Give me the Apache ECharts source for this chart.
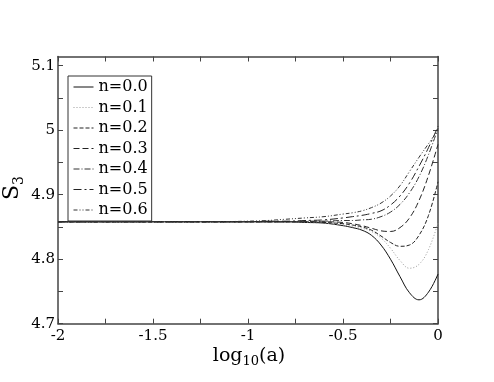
<!DOCTYPE html>
<html><head><meta charset="utf-8">
<script src="https://cdn.jsdelivr.net/npm/echarts@6/dist/echarts.min.js"></script>
<style>html,body{margin:0;padding:0;background:#fff}#c{width:494px;height:382px}</style>
</head><body><div id="c"></div>
<script>
// log10(a) sample positions
const xs = [-2, -1.5, -1.2, -1.0, -0.9, -0.8, -0.7, -0.6, -0.5, -0.45, -0.4, -0.35, -0.3, -0.25, -0.2, -0.15, -0.1, -0.05, 0];
// S3 values per n
const s_n00 = [4.858, 4.858, 4.858, 4.858, 4.858, 4.858, 4.857, 4.856, 4.852, 4.849, 4.845, 4.837, 4.822, 4.800, 4.773, 4.748, 4.737, 4.749, 4.777];
const s_n01 = [4.858, 4.858, 4.858, 4.858, 4.858, 4.858, 4.857, 4.856, 4.853, 4.851, 4.848, 4.843, 4.833, 4.817, 4.798, 4.786, 4.792, 4.815, 4.856];
const s_n02 = [4.858, 4.858, 4.858, 4.858, 4.858, 4.858, 4.858, 4.857, 4.855, 4.853, 4.850, 4.845, 4.836, 4.826, 4.820, 4.822, 4.837, 4.868, 4.920];
const s_n03 = [4.858, 4.858, 4.858, 4.858, 4.858, 4.858, 4.858, 4.858, 4.857, 4.855, 4.852, 4.848, 4.844, 4.843, 4.849, 4.864, 4.891, 4.930, 4.978];
const s_n04 = [4.858, 4.858, 4.858, 4.858, 4.858, 4.858, 4.859, 4.859, 4.860, 4.860, 4.861, 4.862, 4.866, 4.873, 4.885, 4.903, 4.928, 4.962, 5.003];
const s_n05 = [4.858, 4.858, 4.858, 4.858, 4.859, 4.859, 4.860, 4.861, 4.864, 4.866, 4.868, 4.871, 4.875, 4.884, 4.898, 4.918, 4.944, 4.973, 5.006];
const s_n06 = [4.858, 4.858, 4.858, 4.859, 4.860, 4.862, 4.864, 4.866, 4.870, 4.872, 4.875, 4.880, 4.887, 4.898, 4.914, 4.936, 4.958, 4.979, 5.000];
const names = ['n=0.0', 'n=0.1', 'n=0.2', 'n=0.3', 'n=0.4', 'n=0.5', 'n=0.6'];
const xTickLabels = [-2, -1.5, -1, -0.5, 0];
const yTickLabels = [4.7, 4.8, 4.9, 5, 5.1];

const allSeries = [s_n00, s_n01, s_n02, s_n03, s_n04, s_n05, s_n06];
const styles = [
  {color: '#111', type: 'solid'},
  {color: '#9a9a9a', type: [1, 2]},
  {color: '#222', type: [4, 2]},
  {color: '#222', type: [6, 3]},
  {color: '#333', type: [6, 2, 1, 2]},
  {color: '#222', type: [8, 3, 2, 3]},
  {color: '#333', type: [4, 2, 1, 2, 1, 2]}
];
const FONT = 'DejaVu Serif';
const chart = echarts.init(document.getElementById('c'), null, {renderer: 'canvas'});
const yMinor = [];
for (let v = 4.7; v <= 5.1001; v += 0.05) yMinor.push(+v.toFixed(2));
const xMinor = [];
for (let v = -2; v <= 0.0001; v += 0.25) xMinor.push(+v.toFixed(2));

const axisLineStyle = {color: '#444', width: 1.5};
chart.setOption({
  animation: false,
  backgroundColor: '#fff',
  grid: {left: 58, right: 56, top: 56.5, bottom: 58.3, show: false},
  legend: {
    show: true, type: 'plain',
    orient: 'vertical', left: 68, top: 76, right: 'auto', bottom: 'auto',
    padding: [3, 4, 3, 5], itemGap: 4.5, itemWidth: 20, itemHeight: 14,
    borderColor: '#333', borderWidth: 1, backgroundColor: '#fff',
    itemStyle: {color: 'transparent', borderWidth: 0, opacity: 0},
    lineStyle: {width: 1},
    textStyle: {fontFamily: FONT, fontSize: 16, color: '#000', fontWeight: 'normal', lineHeight: 16},
    data: names
  },
  xAxis: [
    {type: 'value', min: -2, max: 0, position: 'bottom',
     axisLine: {show: true, onZero: false, lineStyle: axisLineStyle},
     axisTick: {show: true, inside: true, length: 5, customValues: xMinor, lineStyle: {color: '#444'}},
     axisLabel: {customValues: xTickLabels, margin: 5, color: '#000', fontFamily: FONT, fontSize: 15},
     splitLine: {show: false}},
    {type: 'value', min: -2, max: 0, position: 'top',
     axisLine: {show: true, onZero: false, lineStyle: axisLineStyle},
     axisTick: {show: true, inside: true, length: 5, customValues: xMinor, lineStyle: {color: '#444'}},
     axisLabel: {show: false}, splitLine: {show: false}}
  ],
  yAxis: [
    {type: 'value', min: 4.7, max: 5.1143, position: 'left',
     axisLine: {show: true, onZero: false, lineStyle: axisLineStyle},
     axisTick: {show: true, inside: true, length: 5, customValues: yMinor, lineStyle: {color: '#444'}},
     axisLabel: {customValues: yTickLabels, margin: 3, color: '#000', fontFamily: FONT, fontSize: 15},
     splitLine: {show: false}},
    {type: 'value', min: 4.7, max: 5.1143, position: 'right',
     axisLine: {show: true, onZero: false, lineStyle: axisLineStyle},
     axisTick: {show: true, inside: true, length: 5, customValues: yMinor, lineStyle: {color: '#444'}},
     axisLabel: {show: false}, splitLine: {show: false}}
  ],
  graphic: [
    {type: 'text', x: 249, y: 356, style: {
      text: '{a|log}{b|10}{a|(a)}', align: 'center', verticalAlign: 'middle',
      rich: {a: {fontFamily: FONT, fontSize: 19, fill: '#000'},
             b: {fontFamily: FONT, fontSize: 13, fill: '#000', padding: [12, 0, 0, 0]}}}},
    {type: 'text', x: 12, y: 188, rotation: Math.PI / 2, style: {
      text: '{a|S}{b|3}', align: 'center', verticalAlign: 'middle',
      rich: {a: {fontFamily: FONT, fontSize: 22, fill: '#000'},
             b: {fontFamily: FONT, fontSize: 14, fill: '#000', padding: [14, 0, 0, 0]}}}}
  ],
  series: allSeries.map((arr, i) => ({
    name: names[i], type: 'line', smooth: 0.4, symbol: 'none',
    xAxisIndex: 0, yAxisIndex: 0,
    lineStyle: {width: 1, color: styles[i].color, type: styles[i].type},
    itemStyle: {color: styles[i].color},
    data: xs.map((x, k) => [x, arr[k]])
  }))
});
</script></body></html>
